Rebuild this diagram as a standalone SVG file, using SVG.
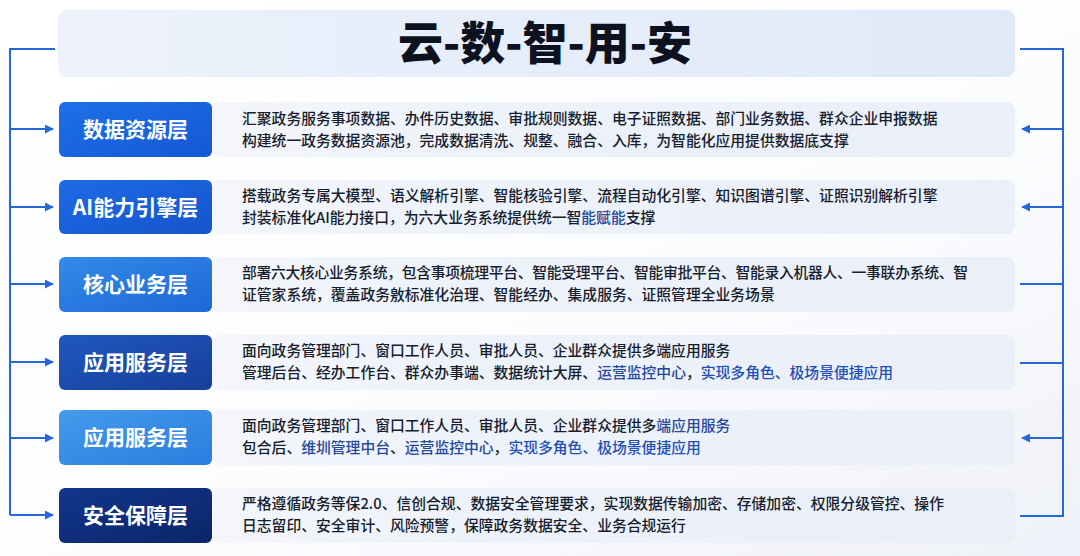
<svg xmlns="http://www.w3.org/2000/svg" width="1080" height="556" viewBox="0 0 1080 556">
<defs>
<linearGradient id="bg" x1="0" y1="0" x2="1" y2="1">
<stop offset="0" stop-color="#ffffff"/><stop offset="0.6" stop-color="#fbfcfe"/><stop offset="1" stop-color="#eef1f7"/>
</linearGradient>
<linearGradient id="titleG" x1="0" y1="0" x2="1" y2="0">
<stop offset="0" stop-color="#edf2fb"/><stop offset="1" stop-color="#dfe9f8"/>
</linearGradient>
<linearGradient id="panelG" x1="0" y1="0" x2="1" y2="0">
<stop offset="0" stop-color="#f4f6fb"/><stop offset="0.3" stop-color="#eef2f9"/><stop offset="1" stop-color="#eaeff8"/>
</linearGradient>
<linearGradient id="b1" x1="0" y1="0" x2="1" y2="1"><stop offset="0" stop-color="#1d70ea"/><stop offset="1" stop-color="#1558d2"/></linearGradient>
<linearGradient id="b2" x1="0" y1="0" x2="1" y2="1"><stop offset="0" stop-color="#1d6be6"/><stop offset="1" stop-color="#1554cc"/></linearGradient>
<linearGradient id="b3" x1="0" y1="0" x2="1" y2="1"><stop offset="0" stop-color="#348ae9"/><stop offset="1" stop-color="#1c68d6"/></linearGradient>
<linearGradient id="b4" x1="0" y1="0" x2="1" y2="1"><stop offset="0" stop-color="#1f58bf"/><stop offset="1" stop-color="#173f9a"/></linearGradient>
<linearGradient id="b5" x1="0" y1="0" x2="1" y2="1"><stop offset="0" stop-color="#439beb"/><stop offset="1" stop-color="#2a7ddf"/></linearGradient>
<linearGradient id="b6" x1="0" y1="0" x2="1" y2="1"><stop offset="0" stop-color="#12358c"/><stop offset="1" stop-color="#0b2668"/></linearGradient>
<marker id="arr" viewBox="0 0 10 10" refX="9" refY="5" markerWidth="4.5" markerHeight="4.5" orient="auto" markerUnits="strokeWidth">
<path d="M0,0 L10,5 L0,10 z" fill="#2467dc"/>
</marker>
</defs>
<style>
.conn{stroke:#2467dc;stroke-width:2;fill:none}
.lbl{font-family:"Noto Sans CJK SC","Noto Sans",sans-serif;font-weight:700;font-size:21px;fill:#ffffff;text-anchor:middle}
.desc{font-family:"Noto Sans CJK SC","Noto Sans",sans-serif;font-weight:500;font-size:14.8px;fill:#151d2e}
.hl{fill:#23489c}
.hl2{fill:#1d4fb8}
.panel{fill:url(#panelG)}
.title{font-family:"Noto Sans CJK SC","Noto Sans",sans-serif;font-weight:900;font-size:45px;fill:#0d1220;text-anchor:middle}
</style>
<rect width="1080" height="556" fill="url(#bg)"/>

<g id="title-node">
<rect x="58" y="10" width="957" height="67" rx="9" fill="url(#titleG)"/>
<text class="title" x="545" y="60">云-数-智-用-安</text>
</g>

<g id="connectors">
<polyline class="conn" points="55,49 10,49 10,515"/>
<line class="conn" x1="10" y1="129" x2="53" y2="129" marker-end="url(#arr)"/>
<line class="conn" x1="10" y1="207" x2="53" y2="207" marker-end="url(#arr)"/>
<line class="conn" x1="10" y1="284" x2="53" y2="284" marker-end="url(#arr)"/>
<line class="conn" x1="10" y1="362" x2="53" y2="362" marker-end="url(#arr)"/>
<line class="conn" x1="10" y1="438" x2="53" y2="438" marker-end="url(#arr)"/>
<line class="conn" x1="10" y1="515" x2="53" y2="515" marker-end="url(#arr)"/>
<polyline class="conn" points="1020,49 1063,49 1063,516 1020,516"/>
<line class="conn" x1="1063" y1="129" x2="1022" y2="129" marker-end="url(#arr)"/>
<line class="conn" x1="1063" y1="207" x2="1022" y2="207" marker-end="url(#arr)"/>
<line class="conn" x1="1063" y1="284" x2="1020" y2="284"/>
<line class="conn" x1="1063" y1="363" x2="1020" y2="363"/>
<line class="conn" x1="1063" y1="438" x2="1022" y2="438" marker-end="url(#arr)"/>
</g>

<g id="layer-data">
<rect class="panel" x="212" y="102" width="803" height="55" rx="8"/>
<rect x="59" y="102" width="153" height="55" rx="6" fill="url(#b1)"/>
<text class="lbl" x="135.5" y="137">数据资源层</text>
<text class="desc" x="242" y="124">汇聚政务服务事项数据、办件历史数据、审批规则数据、电子证照数据、部门业务数据、群众企业申报数据</text>
<text class="desc" x="242" y="146">构建统一政务数据资源池，完成数据清洗、规整、融合、入库，为智能化应用提供数据底支撑</text>
</g>

<g id="layer-ai">
<rect class="panel" x="212" y="180" width="803" height="54" rx="8"/>
<rect x="59" y="180" width="153" height="54" rx="6" fill="url(#b2)"/>
<text class="lbl" x="135.5" y="214.5">AI能力引擎层</text>
<text class="desc" x="242" y="201">搭载政务专属大模型、语义解析引擎、智能核验引擎、流程自动化引擎、知识图谱引擎、证照识别解析引擎</text>
<text class="desc" x="242" y="223">封装标准化AI能力接口，为六大业务系统提供统一智<tspan class="hl">能赋能</tspan>支撑</text>
</g>

<g id="layer-core">
<rect class="panel" x="212" y="257" width="803" height="55" rx="8"/>
<rect x="59" y="257" width="153" height="55" rx="6" fill="url(#b3)"/>
<text class="lbl" x="135.5" y="292">核心业务层</text>
<text class="desc" x="242" y="278" textLength="726" lengthAdjust="spacing">部署六大核心业务系统，包含事项梳理平台、智能受理平台、智能审批平台、智能录入机器人、一事联办系统、智</text>
<text class="desc" x="242" y="300">证管家系统，覆盖政务敫标准化治理、智能经办、集成服务、证照管理全业务场景</text>
</g>

<g id="layer-app1">
<rect class="panel" x="212" y="335" width="803" height="55" rx="8"/>
<rect x="59" y="335" width="153" height="55" rx="6" fill="url(#b4)"/>
<text class="lbl" x="135.5" y="370">应用服务层</text>
<text class="desc" x="242" y="356">面向政务管理部门、窗口工作人员、审批人员、企业群众提供多端应用服务</text>
<text class="desc" x="242" y="378">管理后台、经办工作台、群众办事端、数据统计大屏、<tspan class="hl">运营监控中心</tspan>，<tspan class="hl2">实现多角色、极场景便捷应用</tspan></text>
</g>

<g id="layer-app2">
<rect class="panel" x="212" y="410" width="803" height="55" rx="8"/>
<rect x="59" y="410" width="153" height="55" rx="6" fill="url(#b5)"/>
<text class="lbl" x="135.5" y="445">应用服务层</text>
<text class="desc" x="242" y="431">面向政务管理部门、窗口工作人员、审批人员、企业群众提供多<tspan class="hl">端应用服务</tspan></text>
<text class="desc" x="242" y="453">包合后、<tspan class="hl">维圳管理中台</tspan>、<tspan class="hl">运营监控中心</tspan>，<tspan class="hl2">实现多角色、极场景便捷应用</tspan></text>
</g>

<g id="layer-security">
<rect class="panel" x="212" y="488" width="803" height="55" rx="8"/>
<rect x="59" y="488" width="153" height="55" rx="6" fill="url(#b6)"/>
<text class="lbl" x="135.5" y="523">安全保障层</text>
<text class="desc" x="242" y="509">严格遵循政务等保2.0、信创合规、数据安全管理要求，实现数据传输加密、存储加密、权限分级管控、操作</text>
<text class="desc" x="242" y="531">日志留印、安全审计、风险预警，保障政务数据安全、业务合规运行</text>
</g>
</svg>
